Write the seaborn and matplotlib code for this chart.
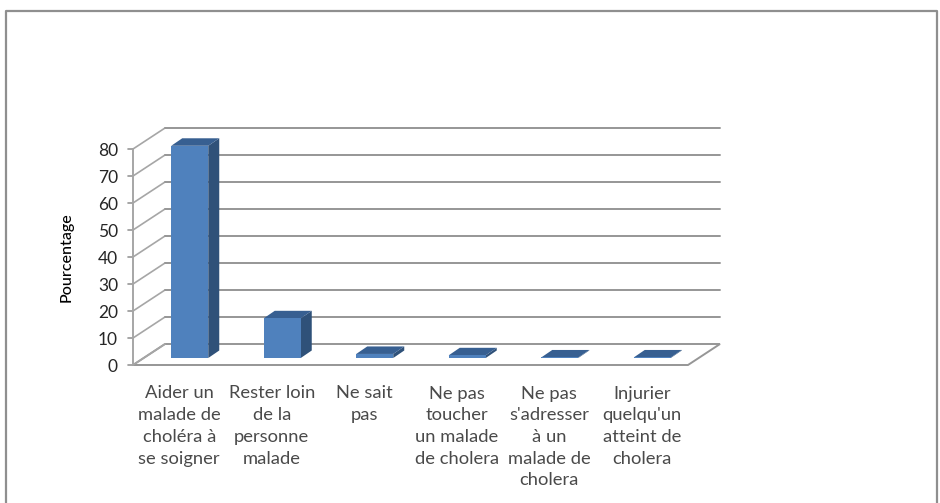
import matplotlib
matplotlib.use('Agg')
import matplotlib.pyplot as plt
import pandas as pd
import seaborn as sns
from matplotlib.patches import Polygon, Rectangle

categories = [
    "Aider un\nmalade de\ncholéra à\nse soigner",
    "Rester loin\nde la\npersonne\nmalade",
    "Ne sait\npas",
    "Ne pas\ntoucher\nun malade\nde cholera",
    "Ne pas\ns'adresser\nà un\nmalade de\ncholera",
    "Injurier\nquelqu'un\natteint de\ncholera",
]
values = [78.6, 14.7, 1.5, 1.0, 0.2, 0.2]
y_ticks = [0, 10, 20, 30, 40, 50, 60, 70, 80]

sns.set_theme(style="white")
plt.rcParams['font.family'] = ['Lato', 'DejaVu Sans']

W, H = 940, 503
PX_X = 92.5   # px per category
PX_Y = 2.7    # px per percent
FRONT = "#4F81BD"
SIDE = "#2F5179"
TOP = "#375F91"
LINE = "#969696"
TEXT = "#4A4A4A"

fig = plt.figure(figsize=(W / 100, H / 100), dpi=100)
# the axes is the plane of the bar fronts, the floor goes in front of and behind it
ax = fig.add_axes([143.5 / W, (H - 358) / H, 555 / W, 80 * PX_Y / H])

df = pd.DataFrame({'cat': categories, 'val': values})
sns.barplot(data=df, x='cat', y='val', color=FRONT, saturation=1, width=0.4, linewidth=0, ax=ax, zorder=4)
ax.set_xlim(-0.5, 5.5)
ax.set_ylim(0, 80)
ax.axis('off')


def shift(x, y, dx_px, dy_px):
    # move a data point by some pixels (dy up)
    return x + dx_px / PX_X, y + dy_px / PX_Y


# floor, back wall and left wall
xl, xr = -0.5, 5.5
fl = shift(xl, 0, -10.5, -7)
fr = shift(xr, 0, -10.5, -7)
bl = shift(xl, 0, 21.5, 14)
br = shift(xr, 0, 21.5, 14)
ax.add_patch(Polygon([fl, fr, br, bl], closed=True, fill=False, ec=LINE, lw=1.4, clip_on=False, zorder=1))

for v in y_ticks:
    a = (fl[0], fl[1] + v)
    b = (bl[0], bl[1] + v)
    c = (br[0], br[1] + v)
    ax.plot([a[0], b[0]], [a[1], b[1]], color="#A6A6A6", lw=1.2, clip_on=False, zorder=1)
    if v > 0:
        ax.plot([b[0], c[0]], [b[1], c[1]], color=LINE, lw=1.4, clip_on=False, zorder=1)
    tick = shift(a[0], a[1], -5, 0)
    ax.plot([tick[0], a[0]], [tick[1], a[1]], color=LINE, lw=1.2, clip_on=False, zorder=1)
    lab = shift(a[0], a[1], -15, -2)
    ax.text(lab[0], lab[1], str(v), ha='right', va='center', fontsize=12.5, color="#262626")
ax.plot([fl[0], fl[0]], [fl[1], fl[1] + 80], color="#A6A6A6", lw=1.4, clip_on=False, zorder=1)

# 3d sides of the bars
for bar in [p for p in ax.patches if isinstance(p, Rectangle)]:
    x0, x1 = bar.get_x(), bar.get_x() + bar.get_width()
    top = bar.get_height()
    d = 11 / PX_X
    e = 7.5 / PX_Y
    ax.add_patch(Polygon([(x1, 0), (x1 + d, e), (x1 + d, top + e), (x1, top)], closed=True,
                         fc=SIDE, ec='none', clip_on=False, zorder=3))
    ax.add_patch(Polygon([(x0, top), (x0 + d, top + e), (x1 + d, top + e), (x1, top)], closed=True,
                         fc=TOP, ec='none', clip_on=False, zorder=3))

# category labels, centred on the front of the floor
for i, cat in enumerate(categories):
    pos = shift(i, 0, -10.5, -27.5)
    ax.text(pos[0], pos[1], cat, ha='center', va='top', fontsize=13.2, color=TEXT, linespacing=1.44)

fig.text(67 / W, 1 - 257 / H, "Pourcentage", rotation=90, ha='center', va='center',
         fontsize=11.5, color="black", fontweight='medium')

# outer frame of the chart area, the bottom is cut by the picture
fig.add_artist(plt.Line2D([5.5 / W, 5.5 / W, 937 / W, 937 / W], [0, 1 - 10.5 / H, 1 - 10.5 / H, 0],
                          color="#8F8F8F", lw=1.6))

fig.savefig('out.png', dpi=100, facecolor='white')
